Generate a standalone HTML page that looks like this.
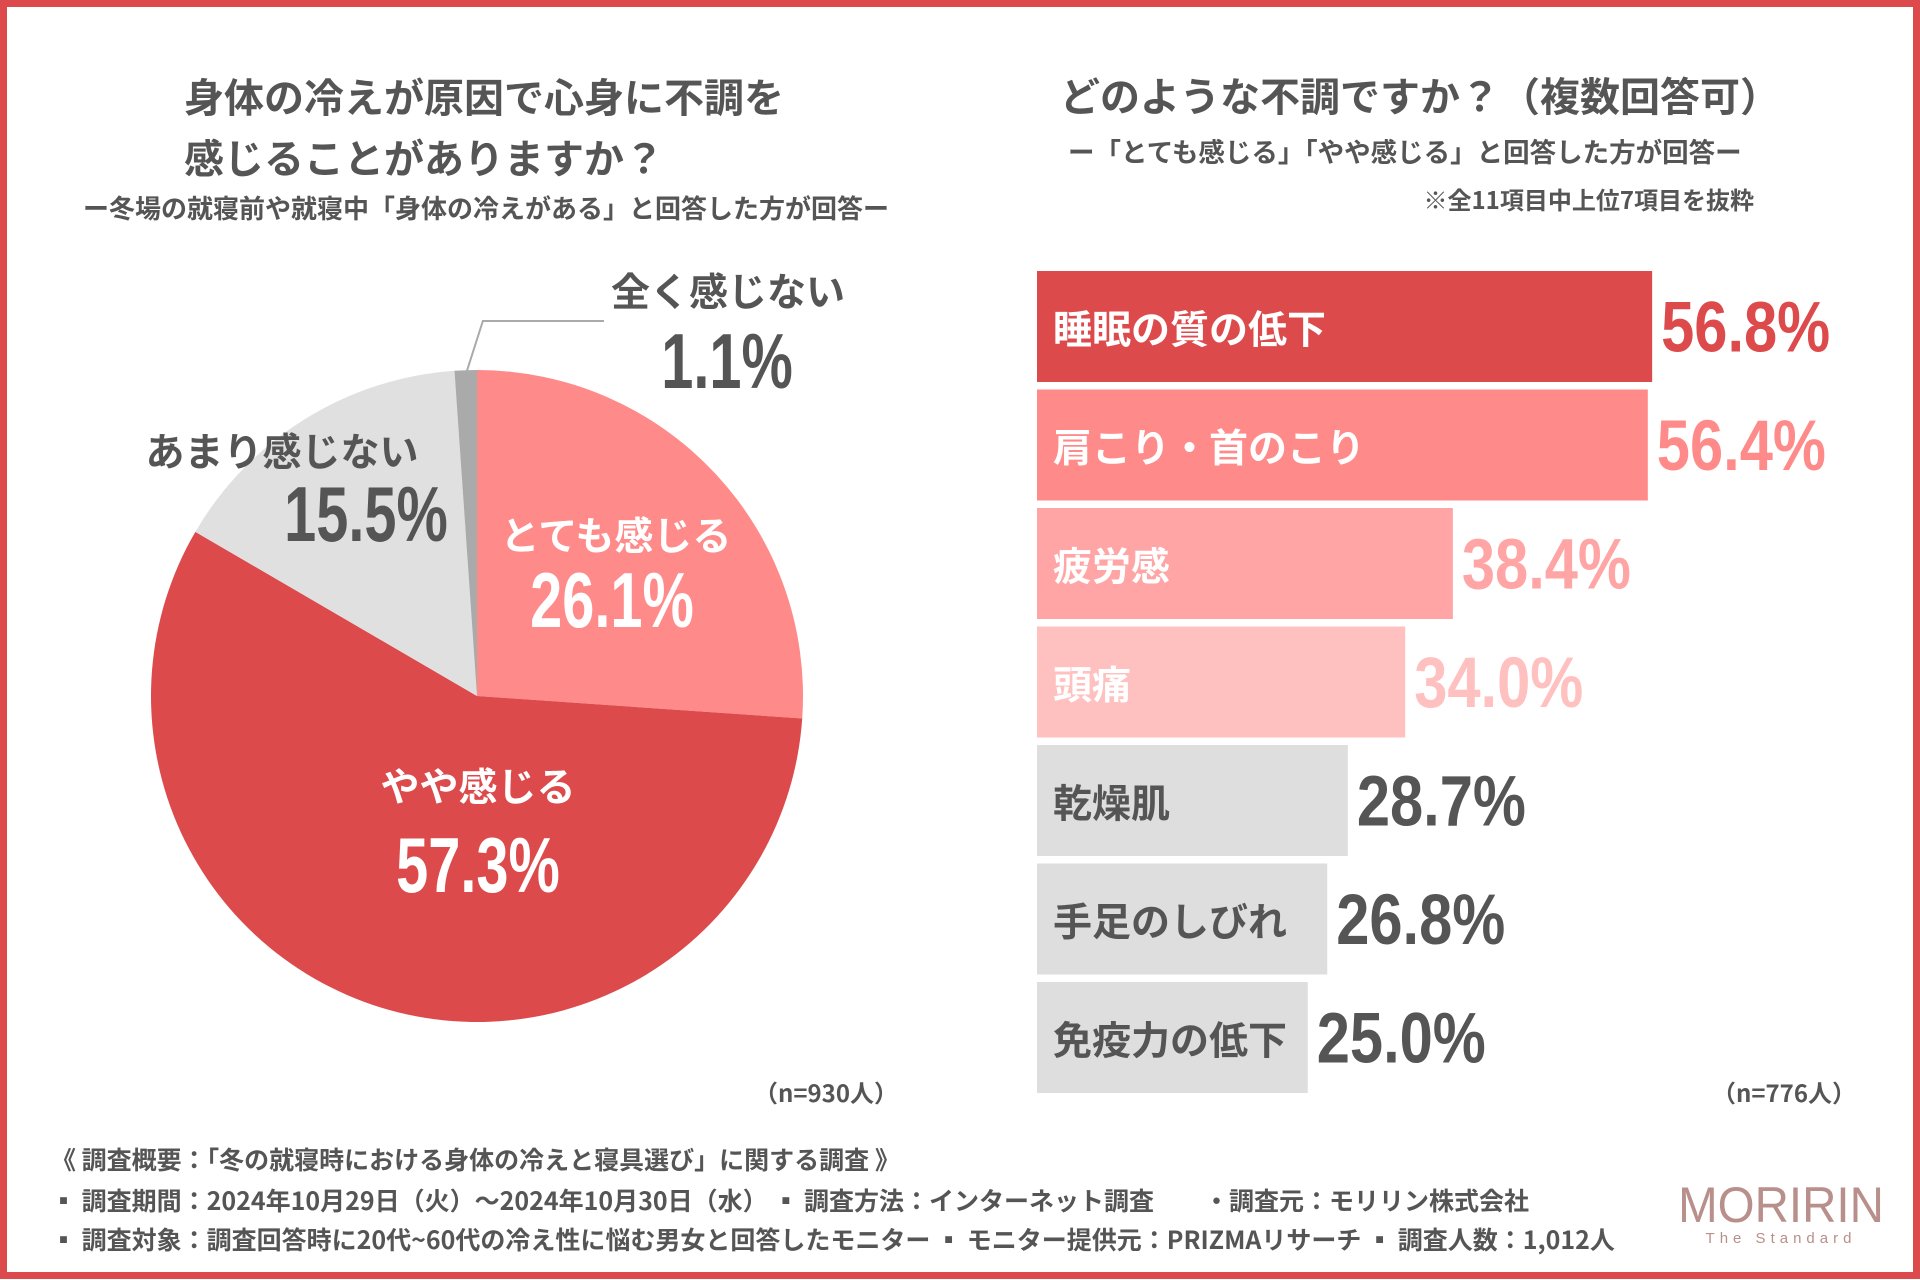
<!DOCTYPE html>
<html><head><meta charset="utf-8">
<style>
html,body{margin:0;padding:0;background:#fff;}
#wrap{position:relative;width:1920px;height:1280px;overflow:hidden;}
svg text{font-family:"Liberation Sans","Noto Sans CJK JP",sans-serif;font-weight:bold;}
.jp{font-family:"Noto Sans CJK JP","Liberation Sans",sans-serif;}
</style></head>
<body>
<div id="wrap">
<svg id="svg" width="1920" height="1280" viewBox="0 0 1920 1280" xmlns="http://www.w3.org/2000/svg">
  <rect x="3.5" y="3.5" width="1913" height="1272" fill="#fff" stroke="#dc4a4c" stroke-width="7"/>
  <g fill="#555">
    <text class="jp" x="184" y="112" font-size="40">身体の冷えが原因で心身に不調を</text>
    <text class="jp" x="184" y="173" font-size="40">感じることがありますか？</text>
    <text class="jp" x="83" y="218" font-size="26">ー冬場の就寝前や就寝中「身体の冷えがある」と回答した方が回答ー</text>
    <text class="jp" x="1060" y="111" font-size="40">どのような不調ですか？（複数回答可）</text>
    <text class="jp" x="1068" y="162" font-size="26.5">ー「とても感じる」「やや感じる」と回答した方が回答ー</text>
    <text class="jp" x="1754" y="209" font-size="24" text-anchor="end">※全11項目中上位7項目を抜粋</text>
    <text class="jp" x="898" y="1102" font-size="24" text-anchor="end">（n=930人）</text>
    <text class="jp" x="1856" y="1102" font-size="24" text-anchor="end">（n=776人）</text>
    <text class="jp" x="51" y="1169" font-size="25">《 調査概要：「冬の就寝時における身体の冷えと寝具選び」に関する調査 》</text>
    <text class="jp" x="51" y="1210" font-size="25">▪ 調査期間：2024年10月29日（火）～2024年10月30日（水） ▪ 調査方法：インターネット調査　　・調査元：モリリン株式会社</text>
    <text class="jp" x="51" y="1249" font-size="25">▪ 調査対象：調査回答時に20代~60代の冷え性に悩む男女と回答したモニター ▪ モニター提供元：PRIZMAリサーチ ▪ 調査人数：1,012人</text>
  </g>
  <g>
    <text x="1781" y="1222" font-size="50" fill="#b98f8c" text-anchor="middle" style="font-weight:normal" transform="translate(1781,0) scale(0.95,1) translate(-1781,0)">MORIRIN</text>
    <text x="1781" y="1243" font-size="15" fill="#b98f8c" text-anchor="middle" letter-spacing="5" style="font-weight:normal">The Standard</text>
  </g>
  <g id="pie"></g>
  <g id="bars"></g>
</svg>
</div>
<script>
const pieLabels = ["とても感じる","やや感じる","あまり感じない","全く感じない"];
const pieValues = [26.1, 57.3, 15.5, 1.1];
const barLabels = ["睡眠の質の低下","肩こり・首のこり","疲労感","頭痛","乾燥肌","手足のしびれ","免疫力の低下"];
const barValues = [56.8, 56.4, 38.4, 34.0, 28.7, 26.8, 25.0];

const NS = "http://www.w3.org/2000/svg";
function mk(tag, attrs, parent){const e=document.createElementNS(NS,tag);for(const k in attrs)e.setAttribute(k,attrs[k]);parent.appendChild(e);return e;}
function numText(parent, x, y, str, size, fill, anchor, sx){
  const t=mk('text',{x:0,y:0,'font-size':size,fill:fill,'text-anchor':anchor,transform:`translate(${x},${y}) scale(${sx},1)`},parent);
  t.textContent=str;return t;
}
const pie=document.getElementById('pie');
const cx=477, cy=696, R=326;
const pieColors=["#ff8a8a","#dc4a4c","#e0e0e0","#aaaaaa"];
const total=pieValues.reduce((a,b)=>a+b,0);
function ang(v){return v/total*2*Math.PI;}
function pt(a,r){return [cx+r*Math.sin(a), cy-r*Math.cos(a)];}
let acc=0;
pieValues.forEach((v,i)=>{
  const a0=ang(acc), a1=ang(acc+v); acc+=v;
  const p0=pt(a0,R), p1=pt(a1,R);
  const large=(a1-a0)>Math.PI?1:0;
  const p=mk('path',{d:`M${cx},${cy} L${p0[0]},${p0[1]} A${R},${R} 0 ${large} 1 ${p1[0]},${p1[1]} Z`,fill:pieColors[i]},pie);
  
  
});
const lastMid=ang(total-pieValues[3]/2);
const lp=pt(lastMid,R-4);
const ll=mk('polyline',{points:`${lp[0]},${lp[1]} ${lp[0]+17},321 604,321`,fill:'none',stroke:'#aaa','stroke-width':2},pie);


const labelPos=[[616,536,612,627,'#fff'],[478,787,478,892,'#fff'],[282,452,366,541,'#555'],[728,292,727,388,'#555']];
pieLabels.forEach((lab,i)=>{
  const L=labelPos[i];
  const t=mk('text',{x:L[0],y:L[1]+14,'font-size':39,fill:L[4],'text-anchor':'middle','class':'jp'},pie);
  t.textContent=lab;
  
  
  const n=numText(pie,L[2],L[3],pieValues[i].toFixed(1)+'%',78,L[4],'middle',0.74);
  
  
});
const bars=document.getElementById('bars');
const bx=1037, pxPer=10.83, top0=271, pitch=118.5, bh=111;
const barColors=["#dc4a4c","#ff8a8a","#ffa5a5","#ffc0c0","#dedede","#dedede","#dedede"];
const valColors=["#dc4a4c","#ff8a8a","#ffa5a5","#ffc0c0","#555","#555","#555"];
const txtColors=["#fff","#fff","#fff","#fff","#555","#555","#555"];
barValues.forEach((v,i)=>{
  const y=top0+i*pitch, w=v*pxPer;
  const r=mk('rect',{x:bx,y:y,width:w,height:bh,fill:barColors[i]},bars);
  
  
  const t=mk('text',{x:1053,y:y+bh/2+17,'font-size':39,fill:txtColors[i],'class':'jp'},bars);
  t.textContent=barLabels[i];
  
  
  const n=numText(bars,bx+w+9,y+bh/2+25,v.toFixed(1)+'%',71,valColors[i],'start',0.84);
  
  
});
</script>
</body></html>
